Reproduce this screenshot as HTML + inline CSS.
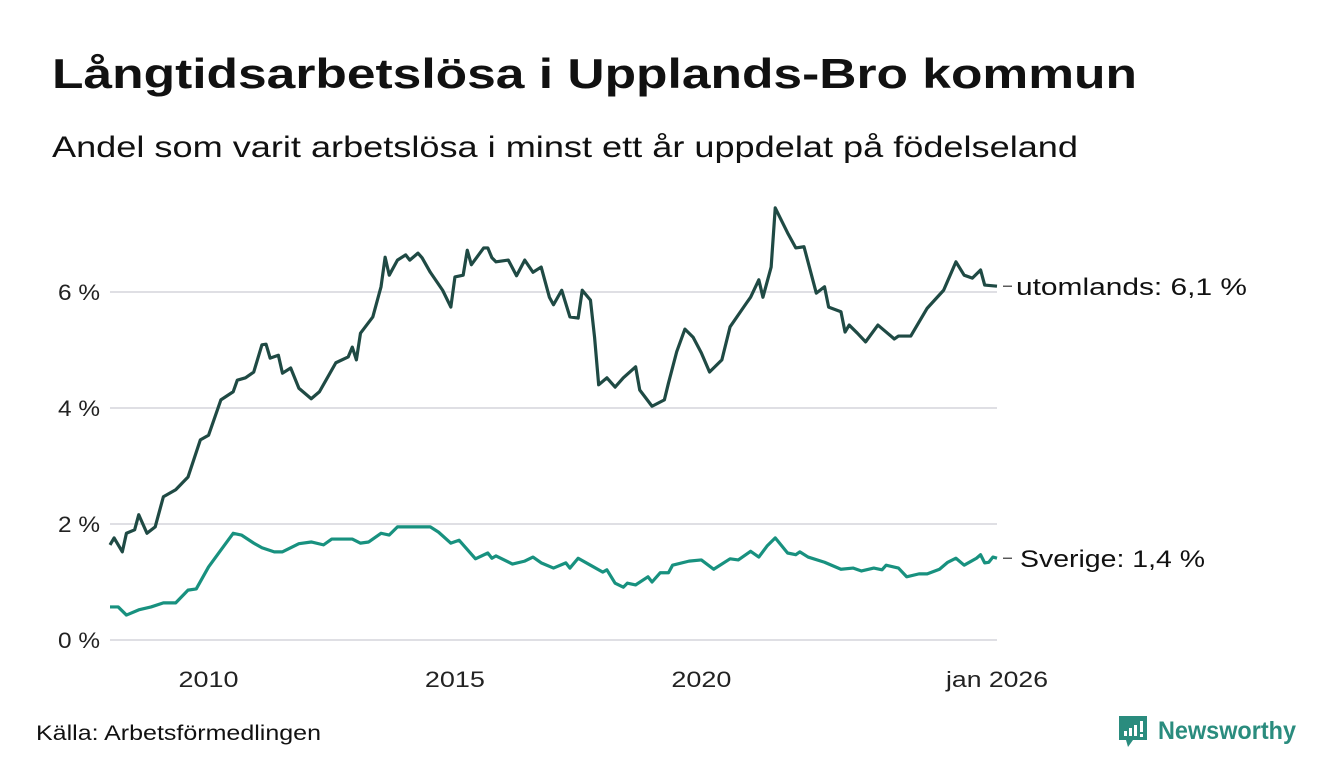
<!DOCTYPE html>
<html><head><meta charset="utf-8"><style>
body{margin:0;background:#fff;}
svg{display:block;font-family:"Liberation Sans","DejaVu Sans",sans-serif;}
</style></head><body>
<svg id="c" width="1340" height="780" viewBox="0 0 1340 780">
<text x="52" y="88" font-size="42" font-weight="bold" fill="#111" textLength="1085" lengthAdjust="spacingAndGlyphs">Långtidsarbetslösa i Upplands-Bro kommun</text>
<text x="52" y="157" font-size="30" fill="#111" textLength="1026" lengthAdjust="spacingAndGlyphs">Andel som varit arbetslösa i minst ett år uppdelat på födelseland</text>
<g id="grid"></g>
<g id="yt"></g>
<g id="xt"></g>
<g id="lines"></g>
<text x="36" y="740" font-size="21" fill="#111" textLength="285" lengthAdjust="spacingAndGlyphs">Källa: Arbetsförmedlingen</text>
<g>
<path d="M1119 716 h28 v24 h-14 l-5 7 l-2 -7 h-7 z" fill="#2a8c7e"/>
<rect x="1124" y="731" width="3" height="5" fill="#fff"/><rect x="1129" y="728" width="3" height="8" fill="#fff"/><rect x="1134" y="725" width="3" height="11" fill="#fff"/><rect x="1140" y="721" width="3" height="11" fill="#fff"/><rect x="1140" y="734" width="3" height="3" fill="#fff"/>
<text x="1158" y="739" font-size="25" font-weight="bold" fill="#2a8c7e" textLength="138" lengthAdjust="spacingAndGlyphs">Newsworthy</text>
</g>
</svg>
<script>
const yTicks=[0,2,4,6];
const yTickLabels=["0 %","2 %","4 %","6 %"];
const xTicks=[24,84,144,216];
const xTickLabels=["2010","2015","2020","jan 2026"];
const utMonths=[0,1,3,4,6,7,9,11,13,16,19,22,24,27,30,31,33,35,37,38,39,41,42,44,46,49,51,55,58,59,60,61,64,66,67,68,70,72,73,75,76,78,81,83,84,86,87,88,91,92,93,94,97,99,101,103,105,107,108,110,112,114,115,117,118,119,121,123,125,128,129,132,135,136,138,140,142,144,146,149,151,155,156,158,159,161,162,165,167,169,172,174,175,178,179,180,182,184,187,191,192,195,199,203,206,208,210,212,213,216];
const utValues=[1.64,1.76,1.52,1.84,1.90,2.16,1.84,1.95,2.47,2.59,2.81,3.45,3.53,4.14,4.28,4.48,4.52,4.62,5.09,5.10,4.86,4.91,4.60,4.69,4.34,4.16,4.28,4.78,4.88,5.05,4.83,5.29,5.57,6.09,6.60,6.29,6.55,6.64,6.55,6.67,6.59,6.34,6.03,5.74,6.26,6.29,6.72,6.47,6.76,6.76,6.59,6.52,6.55,6.28,6.55,6.34,6.43,5.91,5.78,6.03,5.57,5.55,6.03,5.86,5.22,4.40,4.52,4.36,4.52,4.71,4.31,4.03,4.14,4.43,4.97,5.36,5.22,4.95,4.62,4.83,5.40,5.81,5.91,6.21,5.91,6.43,7.45,7.02,6.76,6.78,5.98,6.09,5.74,5.66,5.31,5.43,5.29,5.14,5.43,5.19,5.24,5.24,5.72,6.03,6.52,6.29,6.24,6.38,6.12,6.10];
const svMonths=[0,2,4,7,10,13,16,19,21,24,27,30,32,35,37,40,42,46,49,52,54,59,61,63,66,68,70,75,78,80,83,85,89,92,93,94,98,101,103,105,108,111,112,114,117,120,121,123,125,126,128,131,132,134,136,137,141,144,147,151,153,156,158,160,162,165,167,168,170,174,178,181,183,186,188,189,192,194,197,199,202,204,206,208,211,212,213,214,215,216];
const svValues=[0.57,0.57,0.43,0.52,0.57,0.64,0.64,0.86,0.88,1.26,1.55,1.84,1.81,1.67,1.59,1.52,1.52,1.66,1.69,1.64,1.74,1.74,1.67,1.69,1.84,1.81,1.95,1.95,1.95,1.86,1.67,1.72,1.40,1.50,1.41,1.45,1.31,1.36,1.43,1.33,1.24,1.33,1.24,1.41,1.29,1.17,1.21,0.98,0.91,0.98,0.95,1.09,1.00,1.16,1.16,1.29,1.36,1.38,1.22,1.40,1.38,1.53,1.43,1.62,1.76,1.50,1.47,1.52,1.43,1.34,1.22,1.24,1.19,1.24,1.21,1.29,1.24,1.09,1.14,1.14,1.22,1.34,1.41,1.29,1.41,1.47,1.33,1.34,1.43,1.41];
const utLabel="utomlands: 6,1 %";
const svLabel="Sverige: 1,4 %";

const NS="http://www.w3.org/2000/svg";
const X=m=>110+m*(887/216);
const Y=v=>640-v*58;
function mk(tag,parent,attrs){const e=document.createElementNS(NS,tag);for(const k in attrs)e.setAttribute(k,attrs[k]);document.getElementById(parent).appendChild(e);return e;}
yTicks.forEach((t,i)=>{
  const l=mk('line','grid',{x1:110,x2:997,y1:Y(t),y2:Y(t),stroke:'#dfdfe4','stroke-width':2});
  
  
  const tx=mk('text','yt',{x:100,y:Y(t)+8,'font-size':22,'text-anchor':'end',fill:'#222',textLength:42,lengthAdjust:'spacingAndGlyphs'});
  tx.textContent=yTickLabels[i];
  
  
});
xTicks.forEach((t,i)=>{
  const tx=mk('text','xt',{x:X(t),y:687,'font-size':22,'text-anchor':'middle',fill:'#222',textLength:xTickLabels[i].length>4?102:60,lengthAdjust:'spacingAndGlyphs'});
  tx.textContent=xTickLabels[i];
  
  
});
function series(ms,vs,color,name,label,lx,lw){
  const p=mk('polyline','lines',{points:ms.map((m,i)=>X(m)+','+Y(vs[i])).join(' '),fill:'none',stroke:color,'stroke-width':3.2,'stroke-linejoin':'round'});
  
  
  const last=vs[vs.length-1];
  const ln=mk('line','lines',{x1:1003,x2:1012,y1:Y(last),y2:Y(last),stroke:'#333','stroke-width':1.2});
  
  
  const t=mk('text','lines',{x:lx,y:Y(last)+9,'font-size':24,fill:'#111',textLength:lw,lengthAdjust:'spacingAndGlyphs'});
  t.textContent=label;
  
  
}
series(utMonths,utValues,'#1f4a44','line-utomlands',utLabel,1016,231);
series(svMonths,svValues,'#18917f','line-sverige',svLabel,1020,185);
</script>
</body></html>
